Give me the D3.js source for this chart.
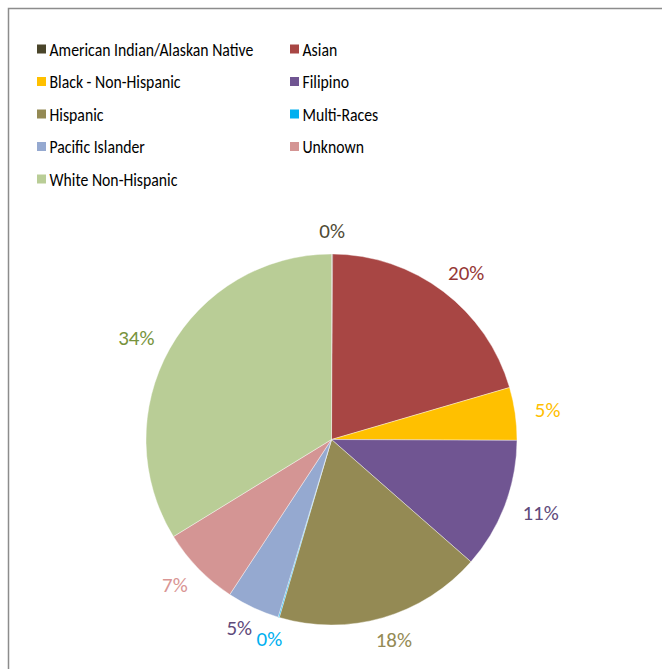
<!DOCTYPE html>
<html lang="en">
    <head>
        <meta charset="utf-8">
        <title>Ethnicity pie</title>
        <script type="text/javascript" src="https://d3js.org/d3.v7.min.js"></script>
        <style type="text/css">
          body { margin: 0; background: #fff; }
          text { font-family: Carlito, Calibri, Lato, sans-serif; }
          .frame { fill: none; stroke: #8c8c8c; stroke-width: 1.5px; }
          .legend text { font-size: 18px; fill: #000; }
          .labels text { font-size: 21px; }
        </style>
    </head>
    <body>
        <svg width="662" height="669"></svg>
        <script type="text/javascript">

            const w = 662;
            const h = 669;

            // slices, clockwise from 12 o'clock (percent of total)
            const categories = ["American Indian/Alaskan Native", "Asian", "Black - Non-Hispanic",
                                "Filipino", "Hispanic", "Multi-Races", "Pacific Islander",
                                "Unknown", "White Non-Hispanic"];
            const values = [0.1, 20.4, 4.6, 11.4, 18.1, 0.1, 4.6, 7.0, 33.8];

            const sliceColors = ["#4a452a", "#a84644", "#ffc000", "#705592", "#948a54",
                                 "#00b0f0", "#95a9d0", "#d49594", "#b9cd96"];
            const labelColors = ["#4f4a35", "#953735", "#ffc000", "#604a7b", "#948a54",
                                 "#00b0f0", "#604a7b", "#d99694", "#77933c"];

            const svg = d3.select("svg");

            // chart area border (runs off the right/bottom of the picture)
            svg.append("rect")
               .attr("class", "frame")
               .attr("x", 8.5)
               .attr("y", 8.5)
               .attr("width", w)
               .attr("height", h);

            //legend: two columns, filled row by row
            const col = d3.scaleOrdinal().domain([0, 1]).range([37, 290]);
            const row = d3.scaleLinear().domain([0, 4]).range([49, 179]);

            const legend = svg.append("g").attr("class", "legend")
                              .selectAll("g")
                              .data(categories)
                              .enter()
                              .append("g")
                              .attr("transform", (d, i) => `translate(${col(i % 2)}, ${row(Math.floor(i / 2))})`);

            legend.append("rect")
                  .attr("x", 0)
                  .attr("y", -4.5)
                  .attr("width", 9)
                  .attr("height", 9)
                  .attr("fill", (d, i) => sliceColors[i]);

            // squeeze the text a little, the original face is a condensed one
            legend.append("text")
                  .attr("transform", "translate(12.5, 6.5) scale(0.875, 1)")
                  .text(d => d);

            //pie
            const cx = 331.5, cy = 439.5, r = 185.5;
            const g = svg.append("g").attr("transform", `translate(${cx}, ${cy})`);

            const pie = d3.pie().sort(null).value(d => d);
            const arcs = pie(values);
            const total = d3.sum(values);
            const pct = d3.format(".0%");

            const arc = d3.arc().innerRadius(0).outerRadius(r);

            g.selectAll("path")
             .data(arcs)
             .enter()
             .append("path")
             .attr("d", arc)
             .attr("fill", (d, i) => sliceColors[i])
             .attr("stroke", "#fff")
             .attr("stroke-width", 0.4);

            //outside-end labels: box edge sits just past the rim
            const labels = g.append("g").attr("class", "labels")
                            .selectAll("text")
                            .data(arcs)
                            .enter()
                            .append("text")
                            .attr("text-anchor", "middle")
                            .attr("dominant-baseline", "central")
                            .attr("fill", (d, i) => labelColors[i])
                            .text(d => pct(d.value / total));

            labels.each(function(d) {
                const a = (d.startAngle + d.endAngle) / 2;
                const bb = this.getBBox();
                const s = Math.sin(a), c = -Math.cos(a);
                const x = (r + 20) * s + s * bb.width / 2;
                const y = (r + 13) * c + c * bb.height / 2.6;
                d3.select(this).attr("x", x).attr("y", y);
            });

        </script>
    </body>
</html>
